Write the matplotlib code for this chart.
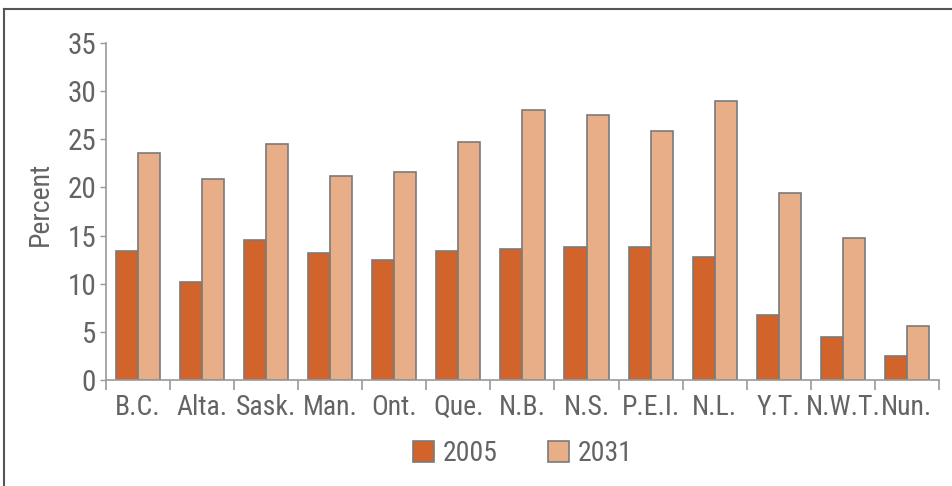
import numpy as np
import matplotlib.pyplot as plt
from matplotlib.lines import Line2D

# data
provinces = ['B.C.', 'Alta.', 'Sask.', 'Man.', 'Ont.', 'Que.', 'N.B.', 'N.S.',
             'P.E.I.', 'N.L.', 'Y.T.', 'N.W.T.', 'Nun.']
pct_2005 = [13.4, 10.2, 14.5, 13.2, 12.5, 13.4, 13.6, 13.8, 13.8, 12.8, 6.8, 4.5, 2.5]
pct_2031 = [23.6, 20.9, 24.5, 21.2, 21.6, 24.7, 28.0, 27.5, 25.9, 29.0, 19.4, 14.8, 5.6]
series_labels = ['2005', '2031']
yticks = [0, 5, 10, 15, 20, 25, 30, 35]

col_2005 = '#d2632a'
col_2031 = '#e8ae88'
edge = '#7a7a7a'
txt = '#636466'

plt.rcParams['font.family'] = ['Roboto Condensed', 'DejaVu Sans']

fig = plt.figure(figsize=(9.52, 4.86), dpi=100)
ax = fig.add_axes([0.1113, 0.2181, 0.8750, 0.6934])

x = np.arange(len(provinces))
w = 0.345
ax.bar(x - w / 2, pct_2005, w, color=col_2005, edgecolor=edge, linewidth=1.2,
       label=series_labels[0])
ax.bar(x + w / 2, pct_2031, w, color=col_2031, edgecolor=edge, linewidth=1.2,
       label=series_labels[1])

ax.set_xlim(-0.5, len(provinces) - 0.5)
ax.set_ylim(0, 35)
ax.set_yticks(yticks)
ax.set_xticks(x)
ax.set_xticklabels(provinces)
ax.set_xticks(np.arange(len(provinces) + 1) - 0.5, minor=True)

ax.tick_params(axis='y', labelsize=21, colors='#9a9a9a', labelcolor=txt, length=4, width=1, pad=3)
ax.tick_params(axis='x', which='major', labelsize=20, labelcolor=txt, length=0, pad=10)
ax.tick_params(axis='x', which='minor', length=7, width=1.2, colors='#9a9a9a', direction='out')

for s in ['top', 'right']:
    ax.spines[s].set_visible(False)
ax.spines['left'].set_color('#9a9a9a')
ax.spines['bottom'].set_color('#9a9a9a')
ax.spines['left'].set_linewidth(1.2)
ax.spines['bottom'].set_linewidth(1.2)

ax.set_ylabel('Percent', fontsize=20, color=txt)
ax.yaxis.set_label_coords(-0.063, 0.522)

leg = fig.legend(loc='center', bbox_to_anchor=(0.549, 0.066), ncol=2, frameon=False,
                 fontsize=20, handlelength=0.78, handleheight=0.78,
                 handletextpad=0.3, columnspacing=1.8, labelcolor=txt)

# outer frame (top and left only)
fig.add_artist(Line2D([4 / 952, 1], [1 - 9 / 486, 1 - 9 / 486], color='#555555', lw=1.5,
                      transform=fig.transFigure))
fig.add_artist(Line2D([4 / 952, 4 / 952], [0, 1 - 9 / 486], color='#555555', lw=1.5,
                      transform=fig.transFigure))

fig.savefig('out.png', dpi=100)
